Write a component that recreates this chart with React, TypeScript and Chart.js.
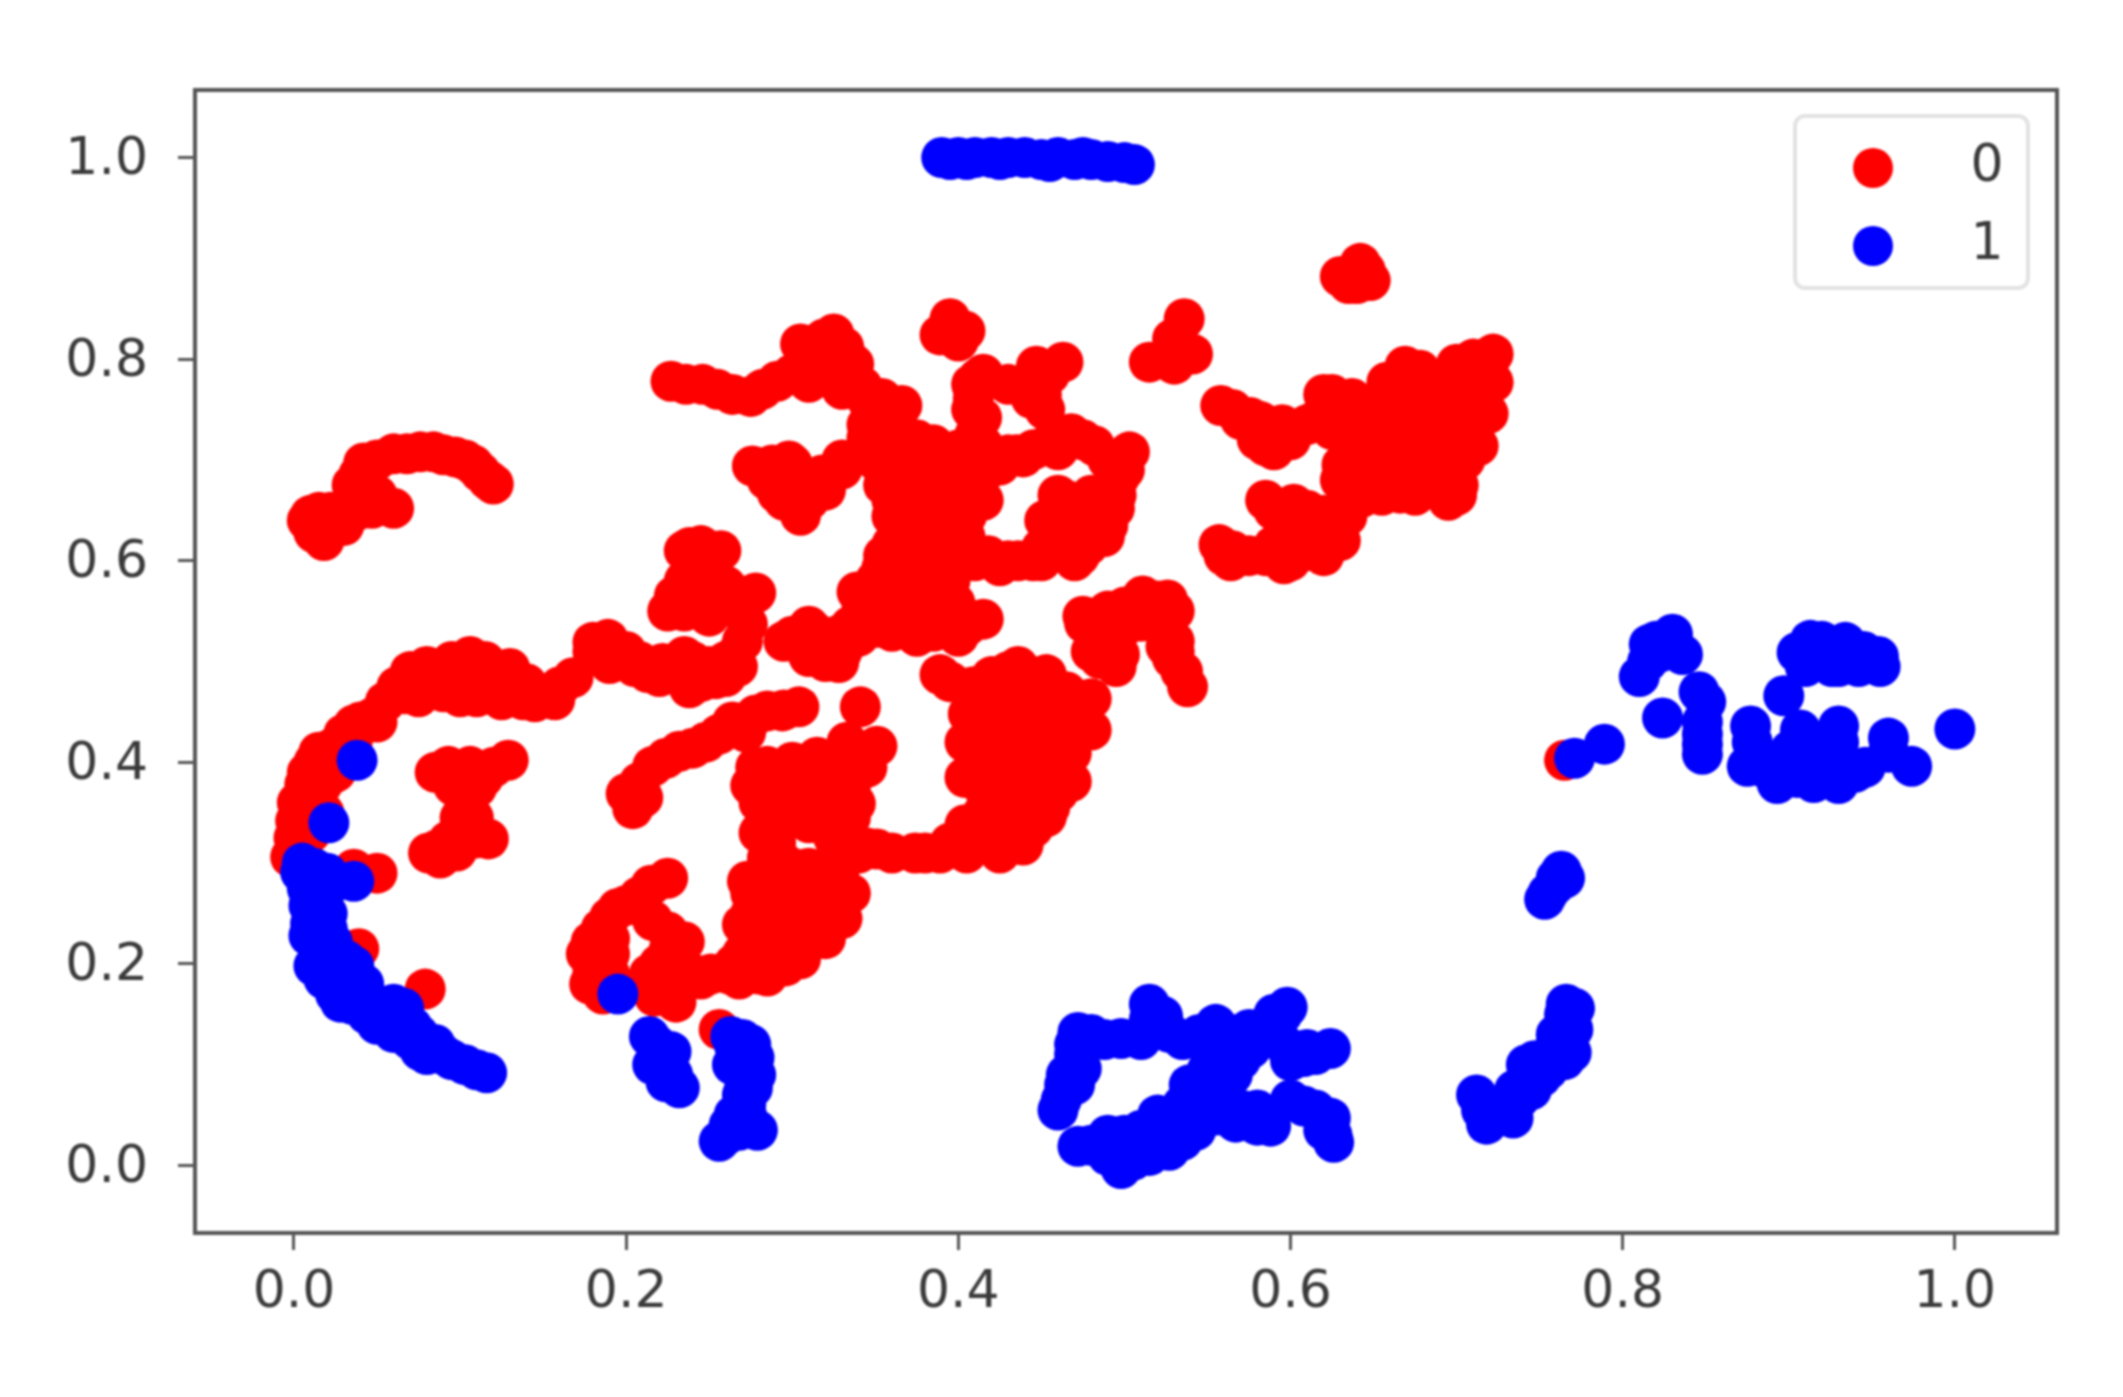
import React, { useEffect, useRef } from "react";
import { Chart, registerables } from "chart.js";

Chart.register(...registerables);

type P = [number, number];

const seriesNames = ["0", "1"];
const xTickValues = [0, 0.2, 0.4, 0.6, 0.8, 1.0];
const yTickValues = [0, 0.2, 0.4, 0.6, 0.8, 1.0];

const redTopLeft: P[] = [[0.008,0.64],[0.015,0.648],[0.02,0.63],[0.026,0.64],[0.015,0.635],[0.039,0.685],[0.042,0.697],[0.06,0.706],[0.076,0.708],[0.09,0.705],[0.103,0.7],[0.112,0.688],[0.12,0.676],[0.06,0.652],[0.047,0.652],[0.043,0.66],[0.05,0.7],[0.035,0.675],[0.05,0.665],[0.068,0.706],[0.084,0.708],[0.097,0.703],[0.108,0.695],[0.117,0.68],[0.054,0.655],[0.038,0.65],[0.01,0.645],[0.022,0.648],[0.012,0.628],[0.03,0.635],[0.018,0.62]];
const redArc: P[] = [[-0.002,0.306],[0.001,0.342],[0.0065,0.378],[0.017,0.378],[0.012,0.4],[0.023,0.414],[0.03,0.428],[0.047,0.444],[0.067,0.468],[0.075,0.48],[0.093,0.487],[0.106,0.505],[0.109,0.475],[0.125,0.47],[0.118,0.492],[0.13,0.493],[0.138,0.462],[0.15,0.465],[0.157,0.462],[0.168,0.484],[0,0.325],[0.002,0.36],[0.008,0.39],[0.015,0.41],[0.02,0.385],[0.012,0.36],[0.006,0.33],[0.028,0.405],[0.036,0.437],[0.04,0.44],[0.055,0.46],[0.062,0.475],[0.07,0.49],[0.08,0.495],[0.085,0.475],[0.095,0.5],[0.1,0.478],[0.115,0.5],[0.12,0.475],[0.128,0.485],[0.14,0.478],[0.145,0.46],[0.16,0.475],[0.025,0.39],[0.018,0.35],[0.01,0.33],[0.1,0.465],[0.11,0.465],[0.125,0.462],[0.075,0.465],[0.09,0.47],[0.05,0.44],[0.035,0.42]];
const redSmall: P[] = [[0.093,0.396],[0.129,0.402],[0.106,0.396],[0.103,0.36],[0.096,0.377],[0.114,0.385],[0.081,0.31],[0.093,0.322],[0.117,0.324],[0.103,0.324],[0.05,0.29],[0.036,0.294],[0.039,0.215],[0.079,0.175],[0.085,0.39],[0.12,0.395],[0.11,0.375],[0.1,0.345],[0.108,0.345],[0.086,0.313],[0.1,0.33],[0.11,0.325],[0.088,0.305],[0.098,0.312]];
const redLowerHook: P[] = [[0.225,0.285],[0.208,0.267],[0.19,0.246],[0.179,0.222],[0.18,0.192],[0.186,0.17],[0.235,0.222],[0.216,0.243],[0.223,0.198],[0.23,0.162],[0.217,0.168],[0.214,0.19],[0.256,0.135],[0.2,0.258],[0.215,0.278],[0.185,0.235],[0.176,0.21],[0.178,0.18],[0.185,0.185],[0.195,0.255],[0.225,0.232],[0.226,0.215],[0.222,0.18],[0.225,0.17],[0.19,0.21],[0.19,0.19],[0.19,0.225],[0.22,0.2],[0.228,0.175]];
const redMiddleArc: P[] = [[0.2,0.369],[0.204,0.354],[0.216,0.396],[0.232,0.411],[0.248,0.42],[0.264,0.44],[0.285,0.451],[0.304,0.455],[0.341,0.455],[0.208,0.38],[0.224,0.404],[0.24,0.414],[0.256,0.428],[0.272,0.43],[0.278,0.447],[0.295,0.452],[0.21,0.365]];
const redTopCentre: P[] = [[0.227,0.778],[0.246,0.775],[0.275,0.763],[0.291,0.778],[0.318,0.811],[0.332,0.805],[0.31,0.8],[0.319,0.82],[0.331,0.812],[0.31,0.808],[0.276,0.694],[0.3,0.696],[0.298,0.667],[0.31,0.777],[0.33,0.789],[0.342,0.773],[0.354,0.761],[0.366,0.754],[0.236,0.775],[0.255,0.77],[0.264,0.765],[0.282,0.77],[0.3,0.785],[0.305,0.815],[0.325,0.825],[0.337,0.795],[0.32,0.79],[0.33,0.77],[0.345,0.76],[0.35,0.75],[0.288,0.695],[0.285,0.68],[0.318,0.685],[0.308,0.672],[0.291,0.667]];
const redBlobs: P[] = [[0.395,0.832],[0.404,0.828],[0.389,0.824],[0.536,0.84],[0.541,0.805],[0.515,0.797],[0.529,0.82],[0.64,0.875],[0.638,0.882],[0.642,0.895],[0.63,0.882],[0.648,0.878],[0.4,0.818],[0.395,0.84],[0.525,0.8],[0.535,0.81],[0.53,0.795],[0.64,0.885],[0.635,0.875],[0.645,0.888]];
const redWeb: P[] = [[0.412,0.781],[0.409,0.761],[0.414,0.742],[0.415,0.714],[0.447,0.793],[0.463,0.797],[0.444,0.761],[0.45,0.765],[0.345,0.722],[0.363,0.73],[0.369,0.703],[0.389,0.695],[0.418,0.691],[0.439,0.703],[0.453,0.714],[0.468,0.726],[0.482,0.714],[0.503,0.708],[0.497,0.683],[0.494,0.652],[0.488,0.624],[0.473,0.605],[0.465,0.66],[0.462,0.636],[0.48,0.644],[0.45,0.612],[0.436,0.6],[0.418,0.605],[0.298,0.699],[0.304,0.667],[0.319,0.683],[0.33,0.691],[0.36,0.644],[0.36,0.616],[0.354,0.593],[0.339,0.569],[0.36,0.569],[0.38,0.663],[0.409,0.671],[0.415,0.66],[0.395,0.644],[0.404,0.624],[0.38,0.624],[0.395,0.597],[0.374,0.6],[0.389,0.573]];
const redWebFill: P[] = [[0.35,0.7],[0.36,0.71],[0.375,0.71],[0.385,0.715],[0.4,0.71],[0.41,0.695],[0.355,0.675],[0.37,0.68],[0.385,0.68],[0.4,0.69],[0.36,0.66],[0.375,0.655],[0.39,0.665],[0.405,0.645],[0.365,0.63],[0.375,0.64],[0.39,0.63],[0.398,0.615],[0.37,0.615],[0.385,0.61],[0.365,0.6],[0.38,0.59],[0.355,0.605],[0.35,0.58],[0.37,0.575],[0.38,0.585],[0.345,0.56],[0.365,0.56],[0.395,0.58],[0.41,0.6],[0.425,0.595],[0.445,0.6],[0.295,0.66],[0.305,0.645],[0.31,0.66],[0.32,0.67],[0.33,0.7],[0.345,0.735],[0.35,0.735],[0.358,0.745],[0.375,0.72],[0.46,0.71],[0.475,0.72],[0.445,0.71],[0.49,0.7],[0.5,0.69],[0.495,0.665],[0.49,0.635],[0.478,0.615],[0.46,0.61],[0.46,0.65],[0.47,0.63],[0.475,0.655],[0.455,0.625],[0.46,0.665],[0.48,0.665],[0.452,0.64],[0.43,0.6],[0.45,0.6],[0.47,0.6],[0.435,0.705],[0.425,0.695],[0.43,0.705],[0.41,0.725],[0.408,0.75],[0.408,0.775],[0.415,0.785],[0.43,0.775],[0.455,0.785],[0.447,0.775],[0.452,0.75]];
const redBar: P[] = [[0.313,0.53],[0.306,0.518],[0.328,0.499],[0.328,0.526],[0.351,0.534],[0.374,0.534],[0.395,0.534],[0.415,0.542],[0.342,0.554],[0.38,0.554],[0.398,0.558],[0.32,0.515],[0.31,0.535],[0.335,0.535],[0.36,0.53],[0.385,0.53],[0.405,0.535],[0.34,0.525],[0.33,0.51],[0.325,0.52],[0.36,0.55],[0.35,0.545],[0.37,0.55],[0.39,0.555],[0.345,0.57],[0.355,0.535],[0.375,0.525],[0.4,0.525],[0.3,0.525],[0.31,0.505],[0.32,0.5],[0.295,0.52]];
const redRightLower: P[] = [[0.476,0.538],[0.5,0.554],[0.511,0.565],[0.526,0.561],[0.491,0.526],[0.485,0.503],[0.497,0.507],[0.526,0.534],[0.529,0.503],[0.538,0.475],[0.534,0.49],[0.485,0.54],[0.49,0.55],[0.505,0.55],[0.51,0.54],[0.52,0.55],[0.53,0.55],[0.52,0.56],[0.5,0.535],[0.49,0.515],[0.475,0.545],[0.53,0.52],[0.53,0.51],[0.535,0.49],[0.525,0.515],[0.495,0.495],[0.48,0.51]];
const redCentreMass: P[] = [[0.389,0.487],[0.409,0.475],[0.436,0.495],[0.453,0.487],[0.456,0.46],[0.48,0.463],[0.406,0.448],[0.404,0.42],[0.404,0.385],[0.48,0.432],[0.468,0.409],[0.468,0.381],[0.453,0.346],[0.439,0.318],[0.409,0.33],[0.424,0.436],[0.43,0.369],[0.447,0.409],[0.415,0.393],[0.439,0.35],[0.424,0.322],[0.404,0.338],[0.447,0.44],[0.351,0.416],[0.333,0.416],[0.313,0.393],[0.3,0.389],[0.333,0.362],[0.322,0.369],[0.307,0.354],[0.351,0.314],[0.374,0.31],[0.33,0.303],[0.389,0.31],[0.304,0.291],[0.313,0.283],[0.395,0.48],[0.42,0.485],[0.43,0.49],[0.445,0.485],[0.41,0.46],[0.42,0.46],[0.43,0.46],[0.44,0.46],[0.465,0.47],[0.47,0.45],[0.475,0.445],[0.41,0.44],[0.42,0.41],[0.43,0.42],[0.44,0.42],[0.455,0.425],[0.465,0.42],[0.47,0.43],[0.41,0.405],[0.415,0.375],[0.425,0.385],[0.44,0.385],[0.455,0.39],[0.46,0.37],[0.445,0.37],[0.455,0.355],[0.415,0.35],[0.43,0.345],[0.445,0.335],[0.415,0.33],[0.43,0.33],[0.44,0.33],[0.425,0.31],[0.41,0.32],[0.395,0.32],[0.405,0.31],[0.38,0.31],[0.36,0.31],[0.345,0.315],[0.34,0.31]];
const redBottomMass: P[] = [[0.275,0.377],[0.284,0.341],[0.289,0.3],[0.273,0.282],[0.27,0.239],[0.31,0.259],[0.329,0.259],[0.31,0.222],[0.296,0.198],[0.262,0.19],[0.251,0.19],[0.278,0.198],[0.285,0.282],[0.307,0.294],[0.327,0.341],[0.338,0.359],[0.319,0.39],[0.296,0.366],[0.285,0.396],[0.343,0.408],[0.294,0.451],[0.333,0.42],[0.299,0.234],[0.283,0.26],[0.32,0.24],[0.278,0.395],[0.3,0.4],[0.315,0.405],[0.33,0.39],[0.28,0.36],[0.295,0.35],[0.31,0.36],[0.32,0.35],[0.335,0.375],[0.345,0.395],[0.28,0.33],[0.29,0.32],[0.3,0.345],[0.335,0.345],[0.325,0.325],[0.335,0.32],[0.285,0.305],[0.295,0.3],[0.31,0.295],[0.33,0.3],[0.32,0.285],[0.305,0.28],[0.295,0.285],[0.275,0.27],[0.285,0.27],[0.3,0.265],[0.32,0.275],[0.335,0.27],[0.275,0.25],[0.29,0.25],[0.305,0.245],[0.315,0.25],[0.33,0.245],[0.275,0.23],[0.285,0.225],[0.3,0.22],[0.315,0.235],[0.32,0.225],[0.27,0.21],[0.285,0.21],[0.305,0.205],[0.265,0.2],[0.28,0.19],[0.29,0.205],[0.24,0.19],[0.245,0.185],[0.268,0.185],[0.285,0.188],[0.305,0.38],[0.315,0.375],[0.31,0.34],[0.32,0.36],[0.3,0.37]];
const redMiddleLeft: P[] = [[0.238,0.613],[0.257,0.61],[0.229,0.565],[0.244,0.553],[0.24,0.59],[0.278,0.568],[0.273,0.537],[0.248,0.493],[0.18,0.519],[0.189,0.522],[0.19,0.498],[0.213,0.489],[0.227,0.492],[0.238,0.474],[0.254,0.483],[0.267,0.495],[0.222,0.498],[0.2,0.51],[0.235,0.61],[0.245,0.615],[0.25,0.6],[0.25,0.58],[0.235,0.58],[0.225,0.55],[0.235,0.55],[0.245,0.57],[0.265,0.565],[0.26,0.575],[0.27,0.565],[0.25,0.545],[0.18,0.51],[0.195,0.51],[0.205,0.495],[0.22,0.485],[0.23,0.49],[0.245,0.48],[0.26,0.5],[0.265,0.505],[0.24,0.5],[0.25,0.495],[0.235,0.505],[0.26,0.485],[0.27,0.52],[0.208,0.5]];
const redRight: P[] = [[0.558,0.754],[0.576,0.742],[0.585,0.714],[0.582,0.738],[0.602,0.73],[0.62,0.765],[0.614,0.738],[0.637,0.761],[0.669,0.793],[0.658,0.777],[0.678,0.789],[0.71,0.8],[0.722,0.805],[0.722,0.777],[0.719,0.746],[0.713,0.714],[0.701,0.675],[0.693,0.667],[0.666,0.667],[0.643,0.663],[0.631,0.695],[0.658,0.726],[0.684,0.75],[0.701,0.769],[0.701,0.742],[0.681,0.695],[0.658,0.683],[0.646,0.738],[0.672,0.761],[0.696,0.71],[0.64,0.71],[0.707,0.785],[0.672,0.714],[0.687,0.722],[0.713,0.761],[0.719,0.793],[0.62,0.745],[0.63,0.75],[0.645,0.75],[0.655,0.76],[0.665,0.775],[0.69,0.775],[0.69,0.76],[0.7,0.795],[0.71,0.775],[0.715,0.745],[0.705,0.725],[0.71,0.73],[0.69,0.73],[0.68,0.735],[0.67,0.74],[0.655,0.74],[0.665,0.725],[0.65,0.72],[0.64,0.695],[0.645,0.68],[0.655,0.7],[0.665,0.695],[0.67,0.68],[0.68,0.675],[0.685,0.68],[0.69,0.695],[0.7,0.695],[0.705,0.7],[0.675,0.665],[0.655,0.665],[0.635,0.665],[0.63,0.68],[0.695,0.66],[0.7,0.665],[0.57,0.74],[0.565,0.75],[0.59,0.725],[0.595,0.735],[0.61,0.735],[0.625,0.765],[0.625,0.73],[0.58,0.72],[0.59,0.71],[0.6,0.72]];
const redRightLow: P[] = [[0.585,0.66],[0.602,0.656],[0.617,0.64],[0.628,0.628],[0.622,0.612],[0.62,0.605],[0.596,0.597],[0.585,0.605],[0.564,0.6],[0.557,0.616],[0.608,0.624],[0.634,0.644],[0.765,0.402],[0.59,0.65],[0.61,0.65],[0.62,0.645],[0.625,0.635],[0.615,0.625],[0.63,0.62],[0.61,0.61],[0.6,0.6],[0.59,0.615],[0.575,0.605],[0.565,0.61],[0.56,0.605],[0.605,0.635],[0.63,0.64]];

const blueTopBar: P[] = [[0.39,1.0],[0.395,0.998],[0.4,1.0],[0.41,1.0],[0.42,1.0],[0.43,1.0],[0.44,1.0],[0.45,0.998],[0.46,1.0],[0.47,0.998],[0.48,0.998],[0.49,0.996],[0.5,0.995],[0.506,0.993],[0.405,0.998],[0.425,0.998],[0.455,0.996],[0.475,1.0]];
const blueLeftArc: P[] = [[0.038,0.402],[0.021,0.34],[0.004,0.291],[0.015,0.288],[0.036,0.282],[0.025,0.282],[0.009,0.258],[0.009,0.228],[0.012,0.198],[0.031,0.204],[0.036,0.198],[0.023,0.18],[0.028,0.162],[0.044,0.15],[0.066,0.156],[0.06,0.132],[0.076,0.114],[0.116,0.092],[0.103,0.1],[0.087,0.114],[0.071,0.138],[0.023,0.222],[0.005,0.3],[0.012,0.295],[0.02,0.29],[0.008,0.275],[0.018,0.27],[0.012,0.25],[0.02,0.25],[0.01,0.24],[0.015,0.22],[0.02,0.235],[0.015,0.21],[0.025,0.2],[0.018,0.185],[0.03,0.19],[0.025,0.17],[0.035,0.175],[0.035,0.16],[0.045,0.165],[0.05,0.15],[0.055,0.145],[0.06,0.148],[0.065,0.14],[0.07,0.125],[0.08,0.11],[0.09,0.11],[0.095,0.105],[0.11,0.095],[0.085,0.12],[0.075,0.13],[0.042,0.18],[0.05,0.14],[0.06,0.16]];
const blueLowerLeft: P[] = [[0.195,0.17],[0.214,0.128],[0.227,0.113],[0.216,0.1],[0.232,0.077],[0.224,0.083],[0.263,0.128],[0.277,0.107],[0.276,0.077],[0.264,0.1],[0.273,0.047],[0.279,0.035],[0.256,0.024],[0.268,0.035],[0.27,0.07],[0.218,0.12],[0.222,0.105],[0.228,0.09],[0.265,0.12],[0.27,0.125],[0.27,0.11],[0.275,0.095],[0.27,0.09],[0.272,0.06],[0.262,0.04],[0.265,0.05],[0.27,0.04],[0.26,0.03],[0.275,0.12],[0.278,0.09]];
const blueCluster: P[] = [[0.472,0.132],[0.515,0.16],[0.523,0.148],[0.498,0.126],[0.527,0.132],[0.555,0.14],[0.559,0.124],[0.598,0.157],[0.588,0.14],[0.576,0.116],[0.474,0.096],[0.464,0.08],[0.46,0.055],[0.472,0.019],[0.498,-0.003],[0.527,0.015],[0.5,0.015],[0.523,0.039],[0.543,0.035],[0.539,0.08],[0.555,0.084],[0.567,0.043],[0.588,0.039],[0.559,0.104],[0.547,0.063],[0.608,0.059],[0.624,0.047],[0.626,0.023],[0.6,0.104],[0.624,0.116],[0.608,0.108],[0.486,0.019],[0.515,0.027],[0.58,0.055],[0.596,0.12],[0.47,0.12],[0.48,0.13],[0.488,0.125],[0.51,0.125],[0.515,0.145],[0.535,0.125],[0.545,0.13],[0.55,0.125],[0.565,0.13],[0.575,0.135],[0.57,0.105],[0.565,0.09],[0.56,0.1],[0.55,0.095],[0.545,0.08],[0.545,0.05],[0.535,0.06],[0.555,0.06],[0.53,0.05],[0.52,0.05],[0.51,0.035],[0.5,0.03],[0.49,0.03],[0.48,0.02],[0.49,0.01],[0.505,0.005],[0.515,0.01],[0.535,0.025],[0.54,0.045],[0.56,0.06],[0.57,0.055],[0.58,0.04],[0.585,0.05],[0.555,0.05],[0.6,0.065],[0.615,0.055],[0.62,0.035],[0.625,0.03],[0.61,0.115],[0.6,0.11],[0.615,0.11],[0.47,0.11],[0.465,0.09],[0.47,0.08],[0.462,0.065],[0.5,0.02],[0.595,0.15],[0.59,0.15],[0.58,0.135]];
const blueCurve: P[] = [[0.789,0.418],[0.771,0.404],[0.763,0.292],[0.759,0.278],[0.753,0.264],[0.766,0.16],[0.771,0.156],[0.765,0.14],[0.769,0.112],[0.759,0.116],[0.751,0.088],[0.738,0.067],[0.734,0.047],[0.72,0.047],[0.712,0.07],[0.718,0.041],[0.747,0.104],[0.76,0.285],[0.765,0.285],[0.755,0.27],[0.765,0.15],[0.77,0.135],[0.765,0.125],[0.76,0.13],[0.755,0.105],[0.755,0.095],[0.745,0.09],[0.74,0.08],[0.73,0.06],[0.725,0.055],[0.742,0.1],[0.745,0.075],[0.735,0.075],[0.765,0.105],[0.715,0.055]];
const blueRight: P[] = [[0.816,0.517],[0.83,0.527],[0.836,0.507],[0.81,0.485],[0.822,0.509],[0.846,0.47],[0.824,0.444],[0.848,0.428],[0.848,0.408],[0.877,0.436],[0.875,0.396],[0.897,0.466],[0.907,0.432],[0.893,0.379],[0.909,0.391],[0.93,0.436],[0.93,0.379],[0.901,0.412],[0.922,0.408],[0.946,0.395],[0.96,0.424],[0.974,0.396],[1.0,0.433],[0.913,0.521],[0.913,0.501],[0.934,0.519],[0.95,0.501],[0.926,0.495],[0.942,0.495],[0.905,0.509],[0.954,0.505],[0.82,0.52],[0.826,0.52],[0.815,0.5],[0.83,0.515],[0.92,0.52],[0.92,0.505],[0.935,0.505],[0.945,0.51],[0.93,0.495],[0.91,0.495],[0.955,0.495],[0.945,0.5],[0.848,0.418],[0.848,0.44],[0.878,0.42],[0.88,0.4],[0.895,0.39],[0.91,0.41],[0.905,0.385],[0.915,0.38],[0.92,0.395],[0.93,0.42],[0.935,0.395],[0.96,0.41],[0.94,0.39],[0.85,0.46],[0.885,0.395]];

const redPoints: P[] = [...redTopLeft, ...redArc, ...redSmall, ...redLowerHook, ...redMiddleArc, ...redTopCentre, ...redBlobs, ...redWeb, ...redWebFill, ...redBar, ...redRightLower, ...redCentreMass, ...redBottomMass, ...redMiddleLeft, ...redRight, ...redRightLow];
const bluePoints: P[] = [...blueTopBar, ...blueLeftArc, ...blueLowerLeft, ...blueCluster, ...blueCurve, ...blueRight];

const frameAndLegend = {
  id: "frameAndLegend",
  afterDraw(chart: any) {
    const { ctx, chartArea: a } = chart;
    ctx.save();
    ctx.strokeStyle = "#555555";
    ctx.lineWidth = 4;
    ctx.strokeRect(a.left, a.top, a.right - a.left, a.bottom - a.top);

    ctx.fillStyle = "#3a3a3a";
    ctx.font = '52px "DejaVu Sans"';
    ctx.textAlign = "right";
    ctx.textBaseline = "middle";
    yTickValues.forEach((v) => {
      ctx.fillText(v.toFixed(1), 148, chart.scales.y.getPixelForValue(v) + 3);
    });

    ctx.beginPath();
    ctx.roundRect(1795, 116, 233, 172, 10);
    ctx.fillStyle = "rgba(255,255,255,0.8)";
    ctx.fill();
    ctx.strokeStyle = "#e2e2e2";
    ctx.lineWidth = 4;
    ctx.stroke();

    const rowY = [168, 246];
    chart.data.datasets.forEach((d: any, i: number) => {
      ctx.beginPath();
      ctx.arc(1873, rowY[i], 20, 0, Math.PI * 2);
      ctx.fillStyle = d.backgroundColor;
      ctx.fill();
      ctx.fillStyle = "#3a3a3a";
      ctx.textAlign = "center";
      ctx.fillText(d.label, 1987, rowY[i] - 1);
    });
    ctx.restore();
  },
};

export default function App() {
  const ref = useRef<HTMLCanvasElement>(null);
  useEffect(() => {
    if (!ref.current) return;
    const tickStyle = { color: "#3a3a3a", font: { family: "DejaVu Sans", size: 52 }, autoSkip: false, maxRotation: 0, callback: (v: any) => Number(v).toFixed(1) };
    const grid = { drawOnChartArea: false, drawTicks: true, tickLength: 17, tickWidth: 3, tickColor: "#555555" };
    const chart = new Chart(ref.current, {
      type: "scatter",
      data: {
        datasets: [
          { label: seriesNames[0], data: redPoints.map(([x, y]) => ({ x, y })), backgroundColor: "#ff0000", borderWidth: 0, pointRadius: 20.5, order: 2 },
          { label: seriesNames[1], data: bluePoints.map(([x, y]) => ({ x, y })), backgroundColor: "#0000ff", borderWidth: 0, pointRadius: 20.5, order: 1 },
        ],
      },
      options: {
        responsive: false,
        animation: false,
        events: [],
        layout: { padding: { left: 0, right: 66, top: 90, bottom: 0 } },
        plugins: { legend: { display: false }, tooltip: { enabled: false } },
        scales: {
          x: {
            type: "linear",
            min: -0.0596,
            max: 1.0615,
            grid,
            border: { display: false },
            ticks: { ...tickStyle, padding: 12 },
            afterBuildTicks: (axis: any) => { axis.ticks = xTickValues.map((value) => ({ value })); },
            afterFit: (axis: any) => { axis.height = 164; },
          },
          y: {
            type: "linear",
            min: -0.067,
            max: 1.067,
            grid,
            border: { display: false },
            ticks: { ...tickStyle, color: "rgba(0,0,0,0)", padding: 24 },
            afterBuildTicks: (axis: any) => { axis.ticks = yTickValues.map((value) => ({ value })); },
            afterFit: (axis: any) => { axis.width = 195; },
          },
        },
      },
      plugins: [frameAndLegend],
    } as any);
    return () => chart.destroy();
  }, []);
  return (
    <canvas
      ref={ref}
      width={2123}
      height={1397}
      style={{ position: "absolute", left: 0, top: 0, width: 2123, height: 1397, filter: "blur(1.2px)" }}
    />
  );
}
